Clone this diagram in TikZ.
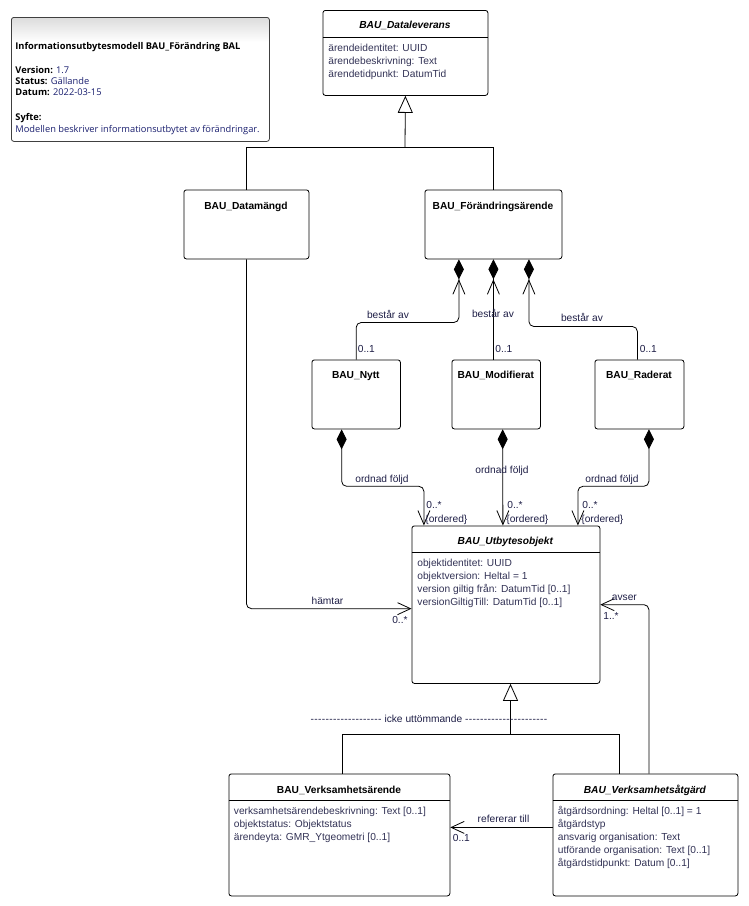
\documentclass[tikz,border=0pt]{standalone}
\usepackage{fontspec}
\setmainfont{Liberation Sans}
\newfontfamily\notefont{Open Sans}
\usetikzlibrary{arrows.meta}

\definecolor{attrcol}{RGB}{50,50,85}
\definecolor{lblcol}{RGB}{30,30,70}
\definecolor{notecol}{RGB}{25,30,110}

\newcommand{\dashrun}[1]{\foreach \k in {1,...,#1}{\makebox[3.75pt]{-}}}

\tikzset{
  cls/.style={draw, rounded corners=2.5, anchor=north west, inner sep=0},
  ctitle/.style={font=\fontsize{10.2}{13}\selectfont\bfseries, anchor=base, inner sep=0},
  attr/.style={text=attrcol, anchor=base west, inner sep=0},
  lbl/.style={text=lblcol, anchor=base, inner sep=0},
  notetxt/.style={font=\notefont\fontsize{9.3}{12}\selectfont, anchor=base west, inner sep=0},
  nav/.style={arrows={-Straight Barb[length=13pt,width=12pt]}, rounded corners=5},
  comp/.style={arrows={-{Straight Barb[length=14pt,width=12pt] Diamond[length=20pt,width=10pt]}}, rounded corners=5},
  ord/.style={arrows={{Diamond[length=20pt,width=10pt]}-{Straight Barb[length=14pt,width=12pt]}}, rounded corners=5},
  gen/.style={arrows={-Triangle[open,fill=white,length=17pt,width=15pt]}}
}

\begin{document}
\begin{tikzpicture}[x=1pt, y=-1pt, line width=0.8pt, font=\fontsize{10.2}{13}\selectfont]
\useasboundingbox (0,0) rectangle (748,906);

% note
\begin{scope}
	\clip[rounded corners=3] (11,17) rectangle (269,141);
	\shade[top color=black!14, bottom color=white] (11,17) rectangle (269,42);
\end{scope}
\node[cls, draw=black!75, minimum width=258, minimum height=124] (note) at (11,17) {};
\node[notetxt] (notehead) at (15,49) {\textbf{Informationsutbytesmodell BAU\_Förändring BAL}};
\node[notetxt] (notever) at (15,73.5) {\textbf{Version:} \textcolor{notecol}{1.7}};
\node[notetxt] (notestat) at (15,84.5) {\textbf{Status:} \textcolor{notecol}{Gällande}};
\node[notetxt] (notedate) at (15,95.5) {\textbf{Datum:} \textcolor{notecol}{2022-03-15}};
\node[notetxt] (notesyfte) at (15,120.5) {\textbf{Syfte:}};
\node[notetxt] (notetext) at (15,132) {\textcolor{notecol}{Modellen beskriver informationsutbytet av förändringar.}};

% classes
\node[cls, minimum width=165, minimum height=85] (dataleverans) at (322.5,10) {};
\node[ctitle] (dataleverans-t) at (405,28) {\textit{BAU\_Dataleverans}};
\draw (322.5,37.5) -- (487.5,37.5);

\node[cls, minimum width=125, minimum height=69] (datamangd) at (183.5,189.5) {};
\node[ctitle] (datamangd-t) at (246,209) {BAU\_Datamängd};

\node[cls, minimum width=137, minimum height=69] (forandring) at (424.5,189.5) {};
\node[ctitle] (forandring-t) at (493,209) {BAU\_Förändringsärende};

\node[cls, minimum width=88.5, minimum height=69] (nytt) at (311.5,359.5) {};
\node[ctitle] (nytt-t) at (355.8,378.5) {BAU\_Nytt};

\node[cls, minimum width=88.5, minimum height=69] (modifierat) at (451.5,359.5) {};
\node[ctitle] (modifierat-t) at (495.8,378.5) {BAU\_Modifierat};

\node[cls, minimum width=89, minimum height=69] (raderat) at (594.5,359.5) {};
\node[ctitle] (raderat-t) at (639,378.5) {BAU\_Raderat};

\node[cls, minimum width=188, minimum height=157.5] (utbytes) at (411.5,525.5) {};
\node[ctitle] (utbytes-t) at (505.5,544) {\textit{BAU\_Utbytesobjekt}};
\draw (411.5,552.5) -- (599.5,552.5);

\node[cls, minimum width=221, minimum height=122] (varende) at (228.5,773.5) {};
\node[ctitle] (varende-t) at (339,793) {BAU\_Verksamhetsärende};
\draw (228.5,800.5) -- (449.5,800.5);

\node[cls, minimum width=185, minimum height=122] (vatgard) at (552.5,773.5) {};
\node[ctitle] (vatgard-t) at (645,793) {\textit{BAU\_Verksamhetsåtgärd}};
\draw (552.5,800.5) -- (737.5,800.5);

% attributes
\def\attrx{328}
\def\attry{51}
\foreach \a [count=\i from 0] in {ärendeidentitet: UUID, ärendebeskrivning: Text, ärendetidpunkt: DatumTid} {
	\node[attr] (dl-\i) at (\attrx,\attry+13*\i) {\a};
}

\def\attrx{417}
\def\attry{566.5}
\foreach \a [count=\i from 0] in {objektidentitet: UUID, objektversion: Heltal = 1, version giltig från: DatumTid [0..1], versionGiltigTill: DatumTid [0..1]} {
	\node[attr] (uo-\i) at (\attrx,\attry+13*\i) {\a};
}

\def\attrx{233.5}
\def\attry{814.5}
\foreach \a [count=\i from 0] in {verksamhetsärendebeskrivning: Text [0..1], objektstatus: Objektstatus, ärendeyta: GMR\_Ytgeometri [0..1]} {
	\node[attr] (va-\i) at (\attrx,\attry+13*\i) {\a};
}

\def\attrx{557.5}
\def\attry{814.5}
\foreach \a [count=\i from 0] in {åtgärdsordning: Heltal [0..1] = 1, åtgärdstyp, ansvarig organisation: Text, utförande organisation: Text [0..1], åtgärdstidpunkt: Datum [0..1]} {
	\node[attr] (vg-\i) at (\attrx,\attry+13*\i) {\a};
}

% generalisations
\coordinate (g1) at (405,147.5);
\draw (datamangd.north) |- (g1) -| (forandring.north);
\draw[gen] (g1) -- (dataleverans.south);

\coordinate (g2) at (510.5,734.5);
\draw ([xshift=3]varende.north) |- (g2) -| ([xshift=-26]vatgard.north);
\draw[gen] (g2) -- (g2 |- utbytes.south);
\node[lbl] (icke) at (429,722.5) {\dashrun{19} icke uttömmande \dashrun{22}};

% består av
\draw[comp] (nytt.north) -- ++(0,-37) -| ([xshift=-34.5]forandring.south);
\draw[comp] (modifierat.north -| forandring.south) -- (forandring.south);
\draw[comp] ([xshift=-2]raderat.north) -- ++(0,-33) -| ([xshift=35.5]forandring.south);
\node[lbl] (ba1) at (388,318) {består av};
\node[lbl] (ba2) at (493,317) {består av};
\node[lbl] (ba3) at (582,321) {består av};
\node[lbl, anchor=base west] (m1) at (357.5,352) {0..1};
\node[lbl, anchor=base west] (m2) at (495,352) {0..1};
\node[lbl, anchor=base west] (m3) at (639.5,352) {0..1};

% ordnad följd
\draw[ord] ([xshift=-14.5]nytt.south) -- ++(0,57) -| ([xshift=-82]utbytes.north);
\draw[ord] ([xshift=6.5]modifierat.south) -- ([xshift=-3]utbytes.north);
\draw[ord] ([xshift=9.5]raderat.south) -- ++(0,57) -| ([xshift=72]utbytes.north);
\node[lbl] (of1) at (382,482) {ordnad följd};
\node[lbl] (of2) at (502,473) {ordnad följd};
\node[lbl] (of3) at (612,482) {ordnad följd};
\foreach \x [count=\i] in {426,507,582} {
	\node[lbl, anchor=base west] (om-\i) at (\x,508) {0..*};
	\node[lbl, anchor=base west] (oo-\i) at (\x-1,522) {\{ordered\}};
}

% hämtar
\draw[nav] (datamangd.south) |- ([yshift=-4]utbytes.west);
\node[lbl] (hamtar) at (327.5,604.5) {hämtar};
\node[lbl, anchor=base east] (hm) at (408,623) {0..*};

% avser
\draw[nav] ([xshift=3.5]vatgard.north) |- (utbytes.east);
\node[lbl, anchor=base west] (avser) at (611.5,600) {avser};
\node[lbl, anchor=base west] (am) at (603,619.5) {1..*};

% refererar till
\draw[nav] ([yshift=7.5]vatgard.west) -- ([yshift=7.5]varende.east);
\node[lbl] (ref) at (503.5,822.5) {refererar till};
\node[lbl, anchor=base west] (rm) at (452.5,841) {0..1};

\end{tikzpicture}
\end{document}
